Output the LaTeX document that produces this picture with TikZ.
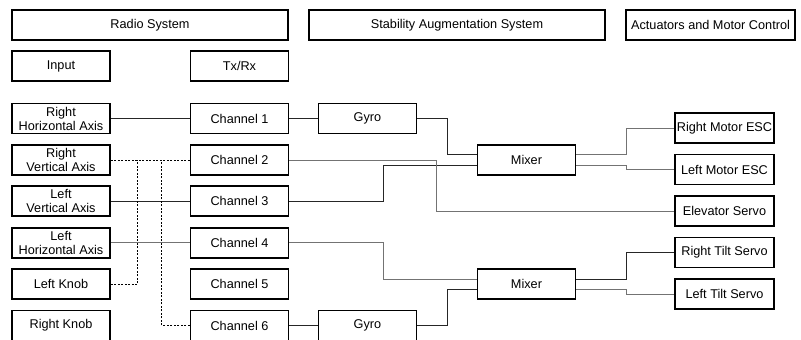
\documentclass[tikz,border=0pt]{standalone}
\usepackage{fontspec}
\setmainfont{Liberation Sans}
\usetikzlibrary{arrows.meta,positioning,calc}

\begin{document}
\begin{tikzpicture}[x=1pt,y=-1pt,
    blk/.style={draw,line width=1.7pt,inner sep=0pt,minimum height=30pt,
      minimum width=98pt,align=center,
      font=\fontsize{12.7}{14}\selectfont},
    wire/.style={line width=0.8pt,black!85},
    gwire/.style={line width=0.8pt,black!55},
    dwire/.style={line width=0.8pt,dash pattern=on 2pt off 1.5pt}]
  \useasboundingbox (0,0) rectangle (801,340);

  % Headers
  \node[blk,minimum width=276pt] (radio) at (150,25) {Radio System};
  \node[blk,minimum width=296pt] (sas) at (457,25) {Stability Augmentation System};
  \node[blk,minimum width=169pt] (act) at (710.5,25) {Actuators and Motor Control};
  \node[blk] (input) at (61,66) {Input};
  \node[blk] (txrx) at (239.5,66) {Tx/Rx};

  % Input devices and channels
  \foreach \n/\t/\y in {rha/{Right\\Horizontal Axis}/118.5,
      rva/{Right\\Vertical Axis}/159.9, lva/{Left\\Vertical Axis}/201.3,
      lha/{Left\\Horizontal Axis}/242.7, lknob/Left Knob/284.1,
      rknob/Right Knob/325.5} {
    \node[blk] (\n) at (61,\y) {\t};
  }
  \foreach \i/\y in {1/118.5, 2/159.9, 3/201.3, 4/242.7, 5/284.1, 6/325.5} {
    \node[blk] (ch\i) at (239.5,\y) {Channel \i};
  }

  % Stabilisation
  \node[blk] (gyroA) at (367.5,118.5) {Gyro};
  \node[blk] (gyroB) at (367.5,325.5) {Gyro};
  \node[blk] (mixA) at (526.5,159.9) {Mixer};
  \node[blk] (mixB) at (526.5,284.1) {Mixer};

  % Actuators
  \foreach \n/\t/\y in {rme/Right Motor ESC/128, lme/Left Motor ESC/169.5,
      elev/Elevator Servo/211, rts/Right Tilt Servo/252.5,
      lts/Left Tilt Servo/294} {
    \node[blk,minimum width=99pt] (\n) at (724.5,\y) {\t};
  }

  % Radio links
  \draw[wire] (rha.east) -- (ch1.west);
  \draw[dwire] (rva.east) -- (ch2.west);
  \draw[wire] (lva.east) -- (ch3.west);
  \draw[gwire] (lha.east) -- (ch4.west);
  \draw[dwire] (lknob.east) -| ([xshift=27pt]rva.east);
  \draw[dwire] (ch6.west) -| ([xshift=51pt]rva.east);

  % Channels to stabilisation
  \draw[wire] (ch1.east) -- (gyroA.west);
  \draw[wire] (ch6.east) -- (gyroB.west);
  \draw[wire] (gyroA.east) -- ++(30,0) |- ([yshift=6pt]mixA.west);
  \draw[wire] (ch3.east) -- ++(94,0) |- ([yshift=-5pt]mixA.west);
  \draw[gwire] (ch2.east) -- ++(147,0) |- (elev.west);
  \draw[gwire] (ch4.east) -- ++(94,0) |- ([yshift=5pt]mixB.west);
  \draw[wire] (gyroB.east) -- ++(30,0) |- ([yshift=-5pt]mixB.west);

  % Mixers to actuators
  \draw[gwire] ([yshift=6pt]mixA.east) -- ++(50,0) |- (rme.west);
  \draw[gwire] ([yshift=-5pt]mixA.east) -- ++(50,0) |- (lme.west);
  \draw[wire] ([yshift=5pt]mixB.east) -- ++(50,0) |- (rts.west);
  \draw[gwire] ([yshift=-5pt]mixB.east) -- ++(50,0) |- (lts.west);
\end{tikzpicture}
\end{document}
